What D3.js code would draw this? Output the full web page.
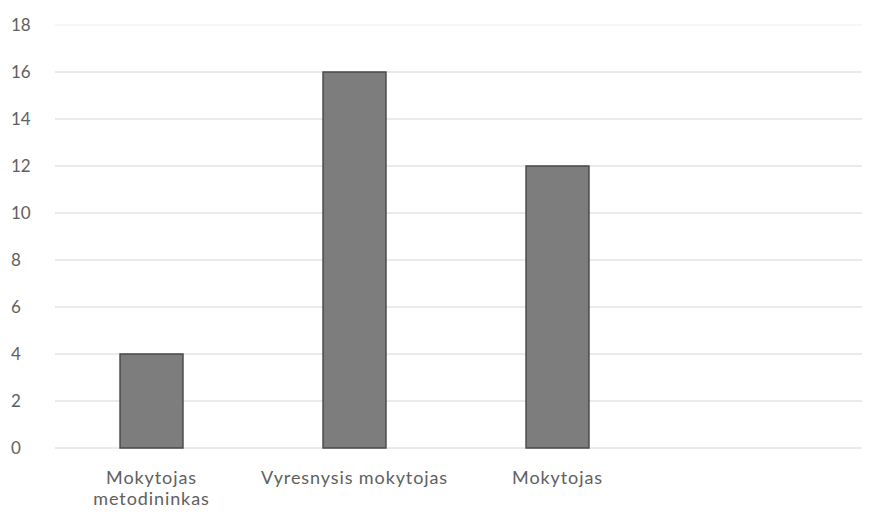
<!DOCTYPE html>
<html>
<head>
<meta charset="utf-8">
<script src="https://cdn.jsdelivr.net/npm/d3@7"></script>
<style>
  body { margin: 0; background: #fff; }
  text { font-family: Lato, "Open Sans", sans-serif; }
</style>
</head>
<body>
<svg width="875" height="513"></svg>
<script>
var categories = ["Mokytojas metodininkas", "Vyresnysis mokytojas", "Mokytojas"];
var labelLines = [["Mokytojas", "metodininkas"], ["Vyresnysis mokytojas"], ["Mokytojas"]];
var values = [4, 16, 12];
var yTicks = [0, 2, 4, 6, 8, 10, 12, 14, 16, 18];

var svg = d3.select("svg"),
	margin = {top: 25, right: 13, bottom: 65, left: 50},
	width = +svg.attr("width") - margin.left - margin.right,
	height = +svg.attr("height") - margin.top - margin.bottom,
	g = svg.append("g").attr("transform", "translate(" + margin.left + "," + margin.top + ")");

// three filled slots out of four, the last one is left empty
var slot = width / 4;
var x = d3.scaleBand()
	.domain(categories)
	.range([0, slot * 3])
	.paddingInner(0.69)
	.paddingOuter(0.345);

var y = d3.scaleLinear().domain([0, 18]).range([height, 0]);

// gridlines
g.append("g")
	.selectAll("line")
	.data(yTicks)
	.enter().append("line")
	.attr("x1", 5)
	.attr("x2", width)
	.attr("y1", function(d) { return y(d); })
	.attr("y2", function(d) { return y(d); })
	.attr("stroke", function(d) { return d == 18 ? "#eeeeee" : "#d6d6d6"; })
	.attr("stroke-width", 1);

// y axis labels
var yAxis = g.append("g")
	.call(d3.axisLeft(y).tickValues(yTicks).tickSize(0));
yAxis.select(".domain").remove();
yAxis.selectAll("text")
	.attr("fill", "#606060")
	.attr("text-anchor", "start")
	.attr("x", -39)
	.style("font-size", "17px");

// bars
g.selectAll(".bar")
	.data(values)
	.enter().append("rect")
	.attr("class", "bar")
	.attr("x", function(d, i) { return x(categories[i]); })
	.attr("width", x.bandwidth())
	.attr("y", function(d) { return y(d); })
	.attr("height", function(d) { return height - y(d); })
	.attr("fill", "#7d7d7d")
	.attr("stroke", "#4a4a4a")
	.attr("stroke-width", 1.5);

// category labels
var labels = g.append("g")
	.selectAll("text")
	.data(categories)
	.enter().append("text")
	.attr("x", function(d) { return x(d) + x.bandwidth() / 2; })
	.attr("y", height + 36)
	.attr("text-anchor", "middle")
	.attr("fill", "#606060")
	.style("font-size", "18px")
	.style("letter-spacing", "0.9px");

labels.selectAll("tspan")
	.data(function(d, i) { return labelLines[i]; })
	.enter().append("tspan")
	.attr("x", function() { var p = this.parentNode; return p.getAttribute("x"); })
	.attr("dy", function(d, i) { return i == 0 ? 0 : 21; })
	.text(function(d) { return d; });
</script>
</body>
</html>
